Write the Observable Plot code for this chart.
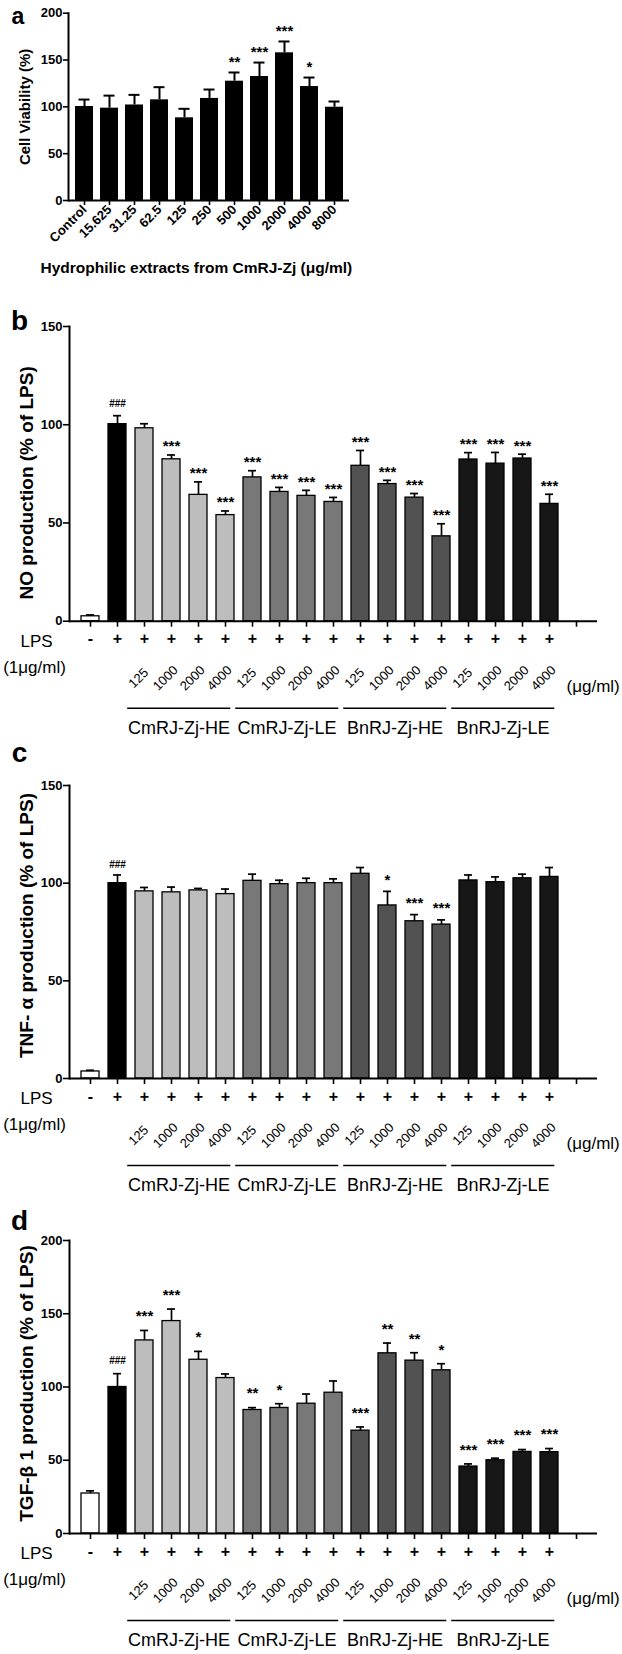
<!DOCTYPE html>
<html><head><meta charset="utf-8">
<script src="https://cdn.jsdelivr.net/npm/d3@7"></script>
<script src="https://cdn.jsdelivr.net/npm/@observablehq/plot@0.6"></script>
<style>
html,body{margin:0;padding:0;background:#fff;}
#page{position:relative;width:622px;height:1654px;overflow:hidden;background:#fff;}
.panel{position:absolute;left:0;}
svg [aria-label="y-axis tick label"], svg [aria-label="x-axis tick label"]{font-weight:bold;}
</style></head><body><div id="page"></div>
<script>
// ---------- Panel a data ----------
const aDoseLabels = ["Control","15.625","31.25","62.5","125","250","500","1000","2000","4000","8000"];
const aViability = [100.4, 98.6, 102, 107.5, 88.3, 109, 127.4, 132.4, 157.7, 121.7, 99.6];
const aViabilityUpper = [107.8, 112, 112.8, 121, 97.9, 118.5, 136.7, 147.3, 169.8, 131.3, 105.7];
const aSignif = ["","","","","","","**","***","***","*",""];
const aYTicks = [0, 50, 100, 150, 200];

// ---------- Panels b-d shared categories ----------
const extractGroups = ["CmRJ-Zj-HE","CmRJ-Zj-LE","BnRJ-Zj-HE","BnRJ-Zj-LE"];
const extractDoses = ["125","1000","2000","4000"];
const lpsSigns = ["-","+","+","+","+","+","+","+","+","+","+","+","+","+","+","+","+","+"];

// ---------- Panel b: NO ----------
const noProduction = [2.5, 100.3, 98.2, 82.4, 64.3, 54.0, 73.2, 65.8, 63.8, 60.7, 79.1, 69.8, 62.9, 43.2, 82.3, 80.2, 82.8, 59.7];
const noUpper      = [3.2, 104.6, 100.5, 84.6, 70.9, 56.1, 76.6, 68.1, 66.6, 63.0, 86.9, 71.7, 65.0, 49.6, 85.8, 85.9, 85.0, 64.6];
const noSignif = ["","###","","***","***","***","***","***","***","***","***","***","***","***","***","***","***","***"];
const noYTicks = [0, 50, 100, 150];

// ---------- Panel c: TNF-alpha ----------
const tnfProduction = [3.6, 100, 95.8, 95.3, 96.3, 94.4, 101.2, 99.5, 100, 100, 104.8, 88.6, 80.5, 78.8, 101.4, 100.5, 102.5, 103.2];
const tnfUpper      = [4.2, 104.2, 97.8, 98, 97.3, 97, 104.6, 101.5, 102.5, 102.2, 108, 95.8, 83.9, 81.2, 104.2, 103.2, 104.6, 108];
const tnfSignif = ["","###","","","","","","","","","","*","***","***","","","",""];
const tnfYTicks = [0, 50, 100, 150];

// ---------- Panel d: TGF-beta1 ----------
const tgfProduction = [27.3, 100, 131.8, 145, 118.6, 106.1, 84.3, 85.7, 88.6, 96.1, 70.2, 123, 118, 111.4, 45.7, 50, 55.7, 55.5];
const tgfUpper      = [29.1, 109.1, 138.6, 153.2, 124.3, 108.9, 85.9, 88.6, 95.2, 104.1, 72.7, 130, 123.4, 115.9, 47.5, 51.4, 57.3, 58];
const tgfSignif = ["","###","***","***","*","","**","*","","","***","**","**","*","***","***","***","***"];
const tgfYTicks = [0, 50, 100, 150, 200];

const FONT = '"Liberation Sans", Arial, Helvetica, sans-serif';
const page = document.getElementById("page");
function place(svg, top) {
  const div = document.createElement("div");
  div.className = "panel";
  div.style.top = top + "px";
  div.appendChild(svg);
  page.appendChild(div);
}
const MID = {textAnchor: "middle", lineAnchor: "middle"};

// ---------- Panel a ----------
const aRows = aDoseLabels.map((d, i) => ({dose: d, mean: aViability[i], upper: aViabilityUpper[i], sig: aSignif[i]}));
place(Plot.plot({
  width: 622, height: 290,
  marginLeft: 68, marginRight: 273, marginTop: 12.7, marginBottom: 90,
  style: {fontFamily: FONT, color: "black", background: "white", overflow: "visible"},
  x: {type: "band", domain: aDoseLabels, paddingInner: 0.29, paddingOuter: 0.12, label: null},
  y: {domain: [0, 200], label: null},
  marks: [
    Plot.barY(aRows, {x: "dose", y: "mean", fill: "black"}),
    Plot.ruleX(aRows, {x: "dose", y1: "mean", y2: "upper", strokeWidth: 2}),
    Plot.tickY(aRows, {x: "dose", y: "upper", insetLeft: 3.5, insetRight: 3.5, strokeWidth: 2}),
    Plot.text(aRows.filter(d => d.sig), {x: "dose", y: "upper", text: "sig", dy: -10, fontSize: 15, fontWeight: "bold"}),
    Plot.ruleY([0], {strokeWidth: 2}),
    Plot.frame({anchor: "left", strokeWidth: 2}),
    Plot.axisY({ticks: aYTicks, tickSize: 5, tickPadding: 1, fontSize: 13, fontWeight: "bold", strokeWidth: 1.6, label: null}),
    Plot.axisX({tickRotate: -45, tickSize: 5, tickPadding: 2, fontSize: 13, fontWeight: "bold", strokeWidth: 1.6, label: null}),
    Plot.text(["Cell Viability (%)"], {...MID, text: d => d, frameAnchor: "left", dx: -43, rotate: -90, fontSize: 15, fontWeight: "bold"}),
    Plot.text(["Hydrophilic extracts from CmRJ-Zj (μg/ml)"], {text: d => d, frameAnchor: "bottom-left", dx: -28, dy: 68, textAnchor: "start", lineAnchor: "middle", fontSize: 15.5, fontWeight: "bold"}),
    Plot.text(["a"], {text: d => d, textAnchor: "middle", lineAnchor: "bottom", frameAnchor: "top-left", dx: -50.5, dy: 11, fontSize: 23, fontWeight: "bold"})
  ]
}), 0);

// ---------- Panels b-d ----------
const conditions = [
  {key: "Control", group: "Control", dose: ""},
  {key: "LPS", group: "LPS", dose: ""},
  ...extractGroups.flatMap(g => extractDoses.map(d => ({key: g + " " + d, group: g, dose: d})))
];
const xDomain = [...conditions.map(c => c.key), "end"];
const spans = extractGroups.map(g => ({group: g, first: g + " " + extractDoses[0], second: g + " " + extractDoses[1], last: g + " " + extractDoses[3]}));

function lpsPanel({letter, letterDy, title, titleDy, mean, upper, signif, yMax, yTicks, height, marginTop, marginBottom, starDy, hashDy}) {
  const rows = conditions.map((c, i) => ({...c, mean: mean[i], upper: upper[i], sig: signif[i], lps: lpsSigns[i]}));
  return Plot.plot({
    width: 622, height,
    marginLeft: 69, marginRight: 25, marginTop, marginBottom,
    style: {fontFamily: FONT, color: "black", background: "white", overflow: "visible"},
    x: {type: "band", domain: xDomain, paddingInner: 0.32, paddingOuter: 0.16, label: null},
    y: {domain: [0, yMax], label: null},
    color: {domain: ["Control", "LPS", ...extractGroups], range: ["#ffffff", "#000000", "#bdbdbd", "#787878", "#525252", "#171717"]},
    marks: [
      Plot.barY(rows, {x: "key", y: "mean", fill: "group", stroke: "black", strokeWidth: 1.3}),
      Plot.ruleX(rows, {x: "key", y1: "mean", y2: "upper", strokeWidth: 1.7}),
      Plot.tickY(rows, {x: "key", y: "upper", insetLeft: 5, insetRight: 5, strokeWidth: 1.7}),
      Plot.text(rows.filter(d => d.sig.startsWith("*")), {x: "key", y: "upper", text: "sig", dy: starDy, fontSize: 15, fontWeight: "bold"}),
      Plot.text(rows.filter(d => d.sig.startsWith("#")), {x: "key", y: "upper", text: "sig", dy: hashDy, fontSize: 10, fontWeight: "bold"}),
      Plot.ruleY([0], {strokeWidth: 2}),
      Plot.frame({anchor: "left", strokeWidth: 2}),
      Plot.axisY({ticks: yTicks, tickSize: 6, tickPadding: 1, fontSize: 13, fontWeight: "bold", strokeWidth: 1.6, label: null}),
      Plot.axisX({tickSize: 6, tickFormat: () => "", strokeWidth: 1.6, label: null}),
      // LPS row
      Plot.text(rows, {...MID, x: "key", text: "lps", frameAnchor: "bottom", dy: 18, fontSize: 16, fontWeight: "bold"}),
      Plot.text(["LPS"], {...MID, text: d => d, frameAnchor: "bottom-left", dx: -33, dy: 20, fontSize: 17}),
      Plot.text(["(1μg/ml)"], {...MID, text: d => d, frameAnchor: "bottom-left", dx: -35, dy: 46, fontSize: 17}),
      // dose labels
      Plot.text(rows.filter(d => d.dose), {...MID, x: "key", text: "dose", frameAnchor: "bottom", dx: -6, dy: 57, rotate: -45, fontSize: 13}),
      Plot.text(["(μg/ml)"], {text: d => d, frameAnchor: "bottom-right", dx: -31, dy: 65, textAnchor: "start", lineAnchor: "middle", fontSize: 17}),
      // group underlines and names
      Plot.ruleY(spans, {x1: "first", x2: "last", y: () => 0, dy: 87, insetLeft: -7.8, insetRight: 3.7, strokeWidth: 1.6}),
      Plot.text(spans, {...MID, x: "second", text: "group", frameAnchor: "bottom", dx: 7.5, dy: 107, fontSize: 18}),
      // titles
      Plot.text([title], {...MID, text: d => d, frameAnchor: "left", dx: -43, dy: titleDy, rotate: -90, fontSize: 19, fontWeight: "bold"}),
      Plot.text([letter], {...MID, text: d => d, frameAnchor: "top-left", dx: -50, dy: letterDy, fontSize: 28, fontWeight: "bold"})
    ]
  });
}

place(lpsPanel({letter: "b", letterDy: -5, title: "NO production (% of LPS)", titleDy: 9, mean: noProduction, upper: noUpper, signif: noSignif,
  yMax: 150, yTicks: noYTicks, height: 440, marginTop: 26, marginBottom: 119.3, starDy: -8.5, hashDy: -12}), 300);
place(lpsPanel({letter: "c", letterDy: -32, title: "TNF- α production (% of LPS)", titleDy: -6.5, mean: tnfProduction, upper: tnfUpper, signif: tnfSignif,
  yMax: 150, yTicks: tnfYTicks, height: 460, marginTop: 45, marginBottom: 122, starDy: -11.5, hashDy: -10}), 740);
place(lpsPanel({letter: "d", letterDy: -19, title: "TGF-β 1 production (% of LPS)", titleDy: -3.5, mean: tgfProduction, upper: tgfUpper, signif: tgfSignif,
  yMax: 200, yTicks: tgfYTicks, height: 454, marginTop: 40, marginBottom: 121, starDy: -14, hashDy: -13}), 1200);
</script></body></html>
